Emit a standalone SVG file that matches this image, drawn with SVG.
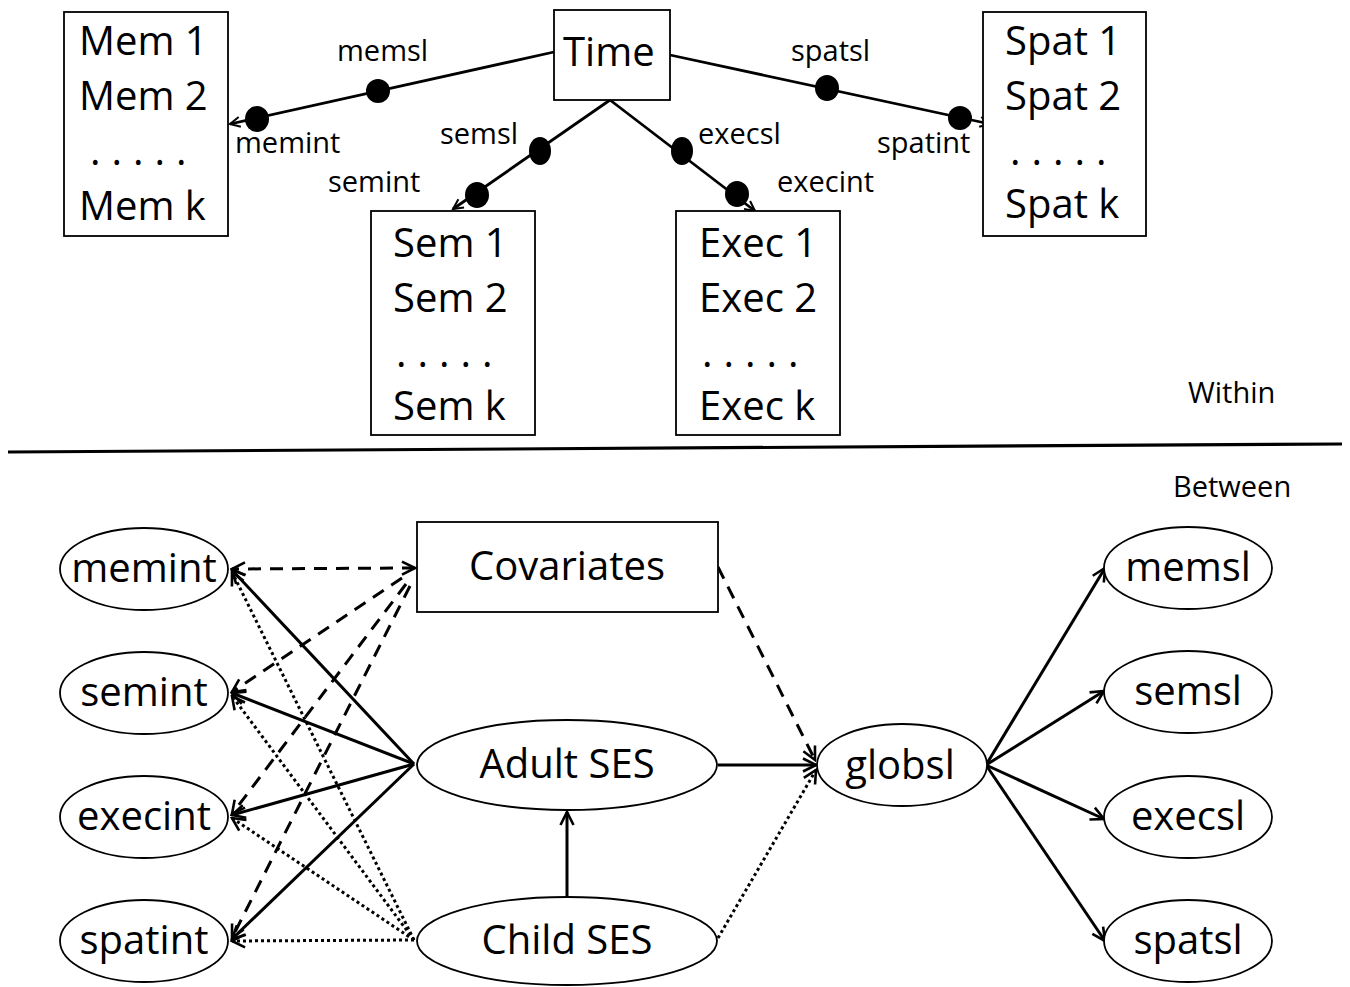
<svg xmlns="http://www.w3.org/2000/svg" width="1350" height="987" viewBox="0 0 1350 987">
<defs>
<marker id="arr" markerUnits="userSpaceOnUse" markerWidth="18" markerHeight="18" viewBox="0 0 18 18" refX="16" refY="9" orient="auto-start-reverse">
<path d="M3,2.5 L16,9 L3,15.5" fill="none" stroke="#000" stroke-width="2.6"/>
</marker>
<marker id="arrs" markerUnits="userSpaceOnUse" markerWidth="14" markerHeight="14" viewBox="0 0 14 14" refX="12" refY="7" orient="auto">
<path d="M2,2 L12,7 L2,12" fill="none" stroke="#000" stroke-width="2"/>
</marker>
</defs>
<style>
.box{fill:#fff;stroke:#000;stroke-width:1.8}
.big{font-family:"Open Sans","Liberation Sans",sans-serif;font-size:40px;fill:#000}
.mid{font-family:"Open Sans","Liberation Sans",sans-serif;font-size:40px;fill:#000;text-anchor:middle}
.lab{font-family:"Open Sans","Liberation Sans",sans-serif;font-size:29px;fill:#000}
.dots{letter-spacing:11px}
.top{stroke:#000;stroke-width:2.8;fill:none}
.sol{stroke:#000;stroke-width:3;fill:none}
.dash{stroke:#000;stroke-width:3;fill:none;stroke-dasharray:13 9}
.dot{stroke:#000;stroke-width:3;fill:none;stroke-dasharray:3 3}
</style>
<rect width="1350" height="987" fill="#fff"/>

<g id="connectors">
<line class="top" x1="554" y1="52" x2="230" y2="124" marker-end="url(#arrs)"/>
<line class="top" x1="610" y1="100" x2="453" y2="209" marker-end="url(#arrs)"/>
<line class="top" x1="610" y1="100" x2="755" y2="211" marker-end="url(#arrs)"/>
<line class="top" x1="670" y1="55" x2="990" y2="124" marker-end="url(#arrs)"/>
<ellipse cx="378" cy="91" rx="12" ry="12"/>
<ellipse cx="257" cy="119" rx="12" ry="13"/>
<ellipse cx="540" cy="151" rx="11" ry="14"/>
<ellipse cx="477" cy="195" rx="12" ry="13"/>
<ellipse cx="682" cy="151" rx="11" ry="14"/>
<ellipse cx="737" cy="194" rx="12" ry="13"/>
<ellipse cx="827" cy="88" rx="12" ry="13"/>
<ellipse cx="960" cy="118" rx="12" ry="12"/>
<line x1="8" y1="452" x2="1342" y2="444" stroke="#000" stroke-width="3.2"/>
<line class="dash" x1="415" y1="568" x2="232" y2="569" marker-start="url(#arr)" marker-end="url(#arr)"/>
<line class="dash" x1="402" y1="578" x2="232" y2="692" marker-end="url(#arr)"/>
<line class="dash" x1="406" y1="584" x2="232" y2="814" marker-end="url(#arr)"/>
<line class="dash" x1="410" y1="586" x2="232" y2="938" marker-end="url(#arr)"/>
<line class="dash" x1="718" y1="567" x2="815" y2="760" marker-end="url(#arr)"/>
<line class="sol" x1="414" y1="764" x2="232" y2="570" marker-end="url(#arr)"/>
<line class="sol" x1="414" y1="764" x2="232" y2="693" marker-end="url(#arr)"/>
<line class="sol" x1="414" y1="764" x2="232" y2="815" marker-end="url(#arr)"/>
<line class="sol" x1="414" y1="764" x2="232" y2="939" marker-end="url(#arr)"/>
<line class="sol" x1="718" y1="765" x2="816" y2="765" marker-end="url(#arr)"/>
<line class="sol" x1="567" y1="897" x2="567" y2="812" marker-end="url(#arr)"/>
<line class="dot" x1="414" y1="940" x2="232" y2="572" marker-end="url(#arr)"/>
<line class="dot" x1="414" y1="940" x2="232" y2="696" marker-end="url(#arr)"/>
<line class="dot" x1="414" y1="940" x2="232" y2="818" marker-end="url(#arr)"/>
<line class="dot" x1="414" y1="940" x2="232" y2="941" marker-end="url(#arr)"/>
<line class="dot" x1="718" y1="938" x2="816" y2="770" marker-end="url(#arr)"/>
<line class="sol" x1="986" y1="765" x2="1105" y2="568" marker-end="url(#arr)"/>
<line class="sol" x1="986" y1="765" x2="1104" y2="691" marker-end="url(#arr)"/>
<line class="sol" x1="986" y1="765" x2="1104" y2="819" marker-end="url(#arr)"/>
<line class="sol" x1="986" y1="765" x2="1105" y2="941" marker-end="url(#arr)"/>
</g>

<g id="labels">
<text class="lab" x="337" y="61">memsl</text>
<text class="lab" x="235" y="153">memint</text>
<text class="lab" x="440" y="144">semsl</text>
<text class="lab" x="328" y="192">semint</text>
<text class="lab" x="698" y="144">execsl</text>
<text class="lab" x="777" y="192">execint</text>
<text class="lab" x="791" y="61">spatsl</text>
<text class="lab" x="877" y="153">spatint</text>
<text class="lab" x="1188" y="403">Within</text>
<text class="lab" x="1173" y="497">Between</text>
</g>

<g id="mem">
<rect class="box" x="64" y="12" width="164" height="224"/>
<text class="big" x="79" y="55">Mem 1</text>
<text class="big" x="79" y="110">Mem 2</text>
<text class="big dots" x="90" y="165">.....</text>
<text class="big" x="79" y="220">Mem k</text>
</g>
<g id="time">
<rect class="box" x="554" y="10" width="116" height="90"/>
<text class="big" x="563" y="66">Time</text>
</g>
<g id="spat">
<rect class="box" x="983" y="12" width="163" height="224"/>
<text class="big" x="1005" y="55">Spat 1</text>
<text class="big" x="1005" y="110">Spat 2</text>
<text class="big dots" x="1010" y="165">.....</text>
<text class="big" x="1005" y="218">Spat k</text>
</g>
<g id="sem">
<rect class="box" x="371" y="211" width="164" height="224"/>
<text class="big" x="393" y="257">Sem 1</text>
<text class="big" x="393" y="312">Sem 2</text>
<text class="big dots" x="396" y="367">.....</text>
<text class="big" x="393" y="420">Sem k</text>
</g>
<g id="exec">
<rect class="box" x="676" y="211" width="164" height="224"/>
<text class="big" x="699" y="257">Exec 1</text>
<text class="big" x="699" y="312">Exec 2</text>
<text class="big dots" x="702" y="367">.....</text>
<text class="big" x="699" y="420">Exec k</text>
</g>

<g id="memint"><ellipse class="box" cx="144" cy="569" rx="84" ry="41"/><text class="mid" x="144" y="582">memint</text></g>
<g id="semint"><ellipse class="box" cx="144" cy="693" rx="84" ry="41"/><text class="mid" x="144" y="706">semint</text></g>
<g id="execint"><ellipse class="box" cx="144" cy="817" rx="84" ry="41"/><text class="mid" x="144" y="830">execint</text></g>
<g id="spatint"><ellipse class="box" cx="144" cy="941" rx="84" ry="41"/><text class="mid" x="144" y="954">spatint</text></g>
<g id="covariates"><rect class="box" x="417" y="522" width="301" height="90"/><text class="mid" x="567" y="580">Covariates</text></g>
<g id="adultses"><ellipse class="box" cx="567" cy="765" rx="150" ry="45"/><text class="mid" x="567" y="778">Adult SES</text></g>
<g id="childses"><ellipse class="box" cx="567" cy="941" rx="150" ry="44"/><text class="mid" x="567" y="954">Child SES</text></g>
<g id="globsl"><ellipse class="box" cx="902" cy="765" rx="85" ry="41"/><text class="mid" x="900" y="779">globsl</text></g>
<g id="memsl"><ellipse class="box" cx="1188" cy="568" rx="84" ry="41"/><text class="mid" x="1188" y="581">memsl</text></g>
<g id="semsl"><ellipse class="box" cx="1188" cy="692" rx="84" ry="41"/><text class="mid" x="1188" y="705">semsl</text></g>
<g id="execsl"><ellipse class="box" cx="1188" cy="817" rx="84" ry="41"/><text class="mid" x="1188" y="830">execsl</text></g>
<g id="spatsl"><ellipse class="box" cx="1188" cy="941" rx="84" ry="41"/><text class="mid" x="1188" y="954">spatsl</text></g>
</svg>
